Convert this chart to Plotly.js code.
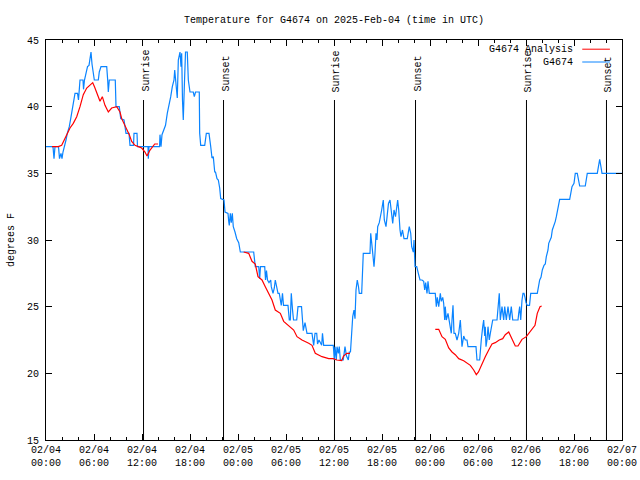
<!DOCTYPE html>
<html>
<head>
<meta charset="utf-8">
<script src="https://cdn.plot.ly/plotly-3.0.1.min.js"></script>
<style>html,body{margin:0;padding:0;background:#fff;}#chart{width:640px;height:480px;}</style>
</head>
<body>
<div id="chart"></div>
<script>
// Hours since 2025-02-04 00:00 UTC
const tickHours = [0, 6, 12, 18, 24, 30, 36, 42, 48, 54, 60, 66, 72];
const tickLabels = ["02/04<br>00:00", "02/04<br>06:00", "02/04<br>12:00", "02/04<br>18:00",
  "02/05<br>00:00", "02/05<br>06:00", "02/05<br>12:00", "02/05<br>18:00",
  "02/06<br>00:00", "02/06<br>06:00", "02/06<br>12:00", "02/06<br>18:00", "02/07<br>00:00"];

// Observed station temperatures (G4674)
const obsHours = [0, 0.875, 1.0, 1.125, 1.5625, 1.6875, 1.875, 2.0, 2.125, 2.25, 2.5, 2.66, 2.81, 2.91, 3.09, 3.29, 3.5, 3.625, 3.94, 4.06, 4.125, 4.25, 4.625, 4.69, 4.81, 5.0, 5.19, 5.375, 5.5, 5.625, 5.75, 5.91, 6.04, 6.54, 6.66, 6.875, 7.59, 7.71, 7.79, 7.91, 8.66, 8.75, 9.16, 9.34, 9.75, 9.875, 10.0, 10.375, 10.5, 10.94, 11.0, 11.375, 11.44, 12.75, 12.79, 12.875,
  14.19, 14.25, 14.375, 14.5, 14.75, 14.94, 15.16, 15.31, 15.59, 15.79, 16.0, 16.09, 16.25, 16.41, 16.54, 16.75, 16.875, 16.96, 17.06, 17.16, 17.29, 17.44, 17.66, 17.79, 18.0, 18.41, 18.54, 18.69, 19.16, 19.21, 19.34, 19.84, 20.04, 20.375, 20.59, 20.75, 20.91, 21.09, 21.19, 21.375, 21.54, 21.71, 21.84, 22.25, 22.375, 22.75, 22.84, 22.91, 23.04, 23.16, 23.29, 23.41, 23.625, 23.84, 24.09, 24.29,
  25.96, 26.16, 26.59, 26.71, 26.81, 27.34, 27.44, 27.56, 27.69, 27.875, 28.09, 28.16, 28.375, 28.54, 28.66, 28.81, 29.0, 29.16, 29.41, 29.56, 29.69, 30.25, 30.41, 30.54, 30.66, 30.81, 30.94, 31.34, 31.5, 31.94, 32.04, 32.16, 32.375, 32.625, 33.25, 33.46, 33.625, 33.84, 33.94, 34.125, 34.46, 34.56, 34.71, 35.91, 36.04, 36.125, 36.29, 36.375, 36.54, 36.66, 36.79, 37.16, 37.375, 37.56, 37.79, 37.91, 38.06, 38.21, 38.34, 38.5, 38.625, 38.75, 38.91, 39.06, 39.16, 39.46, 39.56, 39.66,
  40.5, 40.59, 40.81, 41.0, 41.125, 41.25, 41.375, 41.46, 41.66, 41.84, 41.96, 42.16, 42.29, 42.5, 42.69, 42.81, 43.0, 43.125, 43.34, 43.5, 43.69, 43.96, 44.09, 44.25, 44.375, 44.56, 44.75, 45.16, 45.29, 45.41, 45.59, 45.71, 45.91, 46.0, 46.125, 46.34, 46.54, 46.75, 47.0, 47.21, 47.34, 47.46, 47.625, 47.75, 47.91,
  48.66, 48.79, 48.91, 49.09, 49.29, 49.41, 49.59, 49.71, 49.84, 49.91, 50.04, 50.25, 50.41, 50.54, 50.66, 50.75, 50.875, 51.0, 51.16, 51.375, 51.59, 51.79, 51.91, 52.0, 52.21, 52.41, 52.625, 52.75, 53.75, 53.875, 54.21, 54.29, 54.41, 54.59, 54.71, 54.84, 54.91, 55.0, 55.125, 55.25, 55.41, 55.54, 55.66, 55.84,
  56.375, 56.5, 56.66, 56.79, 57.0, 57.21, 57.34, 57.54, 57.75, 57.96, 58.16, 58.34, 59.0, 59.09, 59.21, 59.34, 59.41, 59.5, 59.625, 59.75, 59.875, 60.0, 60.16, 60.44, 60.59, 61.41, 61.59, 61.71, 61.875, 62.04, 62.25, 62.41, 62.54, 62.75, 62.84, 63.04, 63.16, 63.29, 63.46, 63.66, 63.79, 63.91, 64.09, 64.21,
  65.46, 65.59, 65.75, 66.0, 66.16, 66.41, 66.59, 66.71, 67.41, 67.54, 67.66, 68.91, 69.09, 69.21, 69.34, 69.5, 72];
const obsTemps = [37, 37, 36.1, 37, 37, 36.1, 36.5, 36.1, 36.6, 37, 37.5, 38, 38.3, 38.5, 39.1, 39.75, 40.4, 41, 41, 40.5, 41, 42, 42, 41.3, 42, 42.6, 43, 43.1, 43.6, 44.1, 43.2, 42.5, 42, 42, 42.6, 43, 43, 42, 41.1, 42, 42, 40, 40, 39.1, 39, 38.5, 38, 38, 37.1, 37.1, 38, 38, 37, 37, 36.1, 37,
  37, 37.9, 37, 37.9, 38.3, 38.6, 39.5, 39.9, 40.75, 41.5, 42, 42.75, 41.5, 40.65, 43.5, 44.1, 43, 44, 40.5, 39, 41.5, 44.1, 44.1, 42, 41.1, 41.1, 40.75, 41.1, 41.1, 38, 37.1, 37.1, 38, 38, 37, 36.15, 36.25, 35.1, 35.1, 34.6, 34.5, 33.9, 33.1, 33, 32.1, 32, 31.4, 31.1, 32, 31.3, 32, 31, 30.6, 30.1, 29.8, 29.1,
  29.1, 28, 28, 27.1, 28, 28, 27, 27.7, 27, 26.8, 27, 26.5, 26, 26.4, 27, 26.5, 26, 26, 25.1, 26, 25.1, 25.1, 24, 24, 26, 24.8, 24, 24, 25, 25, 24, 23.2, 23.8, 23, 23, 22.1, 23, 23, 22.2, 22.5, 22.1, 23, 22.1, 22.1, 21, 22, 21, 22, 21.5, 22, 21, 21, 22, 21.3, 21, 21.6, 21.6, 22.9, 24.25, 24.75, 24.1, 26.25, 27, 26.5, 26, 26, 27.5, 29,
  29, 30.5, 29.2, 28, 29, 30.5, 30, 31, 31.3, 31.75, 32.25, 33, 31.5, 31, 32.25, 32.75, 33, 32.25, 31.25, 32.25, 31.75, 33, 32.25, 30.75, 30.25, 30.75, 30.1, 30.1, 30.5, 31, 30.5, 29.5, 29.1, 30, 28, 28, 27.5, 27, 27, 26.9, 26.25, 26.8, 26, 26.9, 26,
  26, 25, 25.7, 25, 26, 25.4, 25.7, 25.25, 24, 25, 24, 24.5, 24, 23.5, 23, 24, 25.1, 23, 23, 22.5, 23, 24, 23, 22, 22.8, 22.5, 22.5, 22, 22, 21, 21, 21.8, 22.5, 23.5, 24, 22.8, 23.5, 22, 22.5, 23.5, 22.5, 23, 23.5, 24,
  24, 25, 26, 24, 25, 24, 25, 24, 25, 24, 25, 24, 24, 24.5, 25, 24, 25.1, 25.5, 26, 26, 25.7, 25.3, 25.1, 25.1, 26, 26, 26.6, 27, 27.2, 27.75, 28.1, 28.2, 28.75, 29.25, 29.75, 30.1, 30.2, 30.75, 31, 31.4, 31.75, 32.1, 32.75, 33.05,
  33.05, 33.5, 34, 34.25, 35, 35, 34.5, 34.05, 34.05, 34.6, 35, 35, 35.6, 36.05, 35.6, 35, 35];

// Analysis temperatures (G4674 Analysis), gaps as null
const anaHours = [0.75, 1.54, 1.96, 2.375, 2.79, 3.0, 3.41, 3.84, 4.25, 4.66, 5.09, 5.5, 5.84, 6.06, 6.34, 6.75, 7.04, 7.375, 7.79, 8.21, 8.84, 9.25, 9.46, 9.875, 10.125, 10.41, 10.71, 11.125, 11.54, 11.96, 12.375, 12.625, 12.96, 13.375, 13.59, 14.0, null,
  24.71, 25.34, 25.75, 26.16, 26.5, 27.0, 27.41, 27.84, 28.25, 28.66, 29.29, 29.71, 30.34, 30.96, 31.375, 32.0, 32.84, 33.25, 33.66, 34.5, 35.34, 35.91, 36.34, 36.96, 37.19, 37.59, 38.0, null,
  48.66, 49.09, 49.5, 49.91, 50.34, 50.75, 51.16, 51.59, 52.21, 52.625, 53.04, 53.46, 53.79, 54.06, 54.5, 54.91, 55.34, 55.75, 56.16, 56.66, 57.09, 57.41, 57.84, 58.25, 58.66, 59.0, 59.5, 60.04, 60.5, 60.91, 61.125, 61.41, 61.75, 61.96];
const anaTemps = [37, 37, 37.1, 37.6, 38.1, 38.4, 38.75, 39.25, 40, 40.9, 41.4, 41.6, 41.8, 41.5, 41.1, 40.4, 40.75, 40.1, 39.6, 39.9, 40, 39.6, 39.1, 38.6, 38.3, 37.9, 37.4, 37.1, 37, 36.9, 36.6, 36.3, 36.7, 37, 37.2, 37.2, null,
  29.1, 29, 28.4, 28.2, 27.25, 27, 26.5, 26, 25.5, 24.75, 24.5, 23.9, 23.6, 23.25, 22.75, 22.5, 22.25, 22.1, 21.5, 21.25, 21.1, 21.1, 21, 20.95, 21.3, 21.5, 21.5, null,
  23.3, 23.3, 22.75, 22.55, 21.9, 21.6, 21.4, 21.1, 20.95, 20.75, 20.6, 20.25, 19.9, 20.1, 20.75, 21.25, 21.75, 22.2, 22.3, 22.5, 22.6, 22.9, 23.1, 22.6, 22.05, 22.05, 22.55, 22.75, 23.1, 23.4, 23.6, 24.5, 25, 25.05];

// Sunrise / sunset times
const eventHours = [12.19, 22.19, 36.06, 46.19, 60.06, 70.06];
const eventLabels = ["Sunrise", "Sunset", "Sunrise", "Sunset", "Sunrise", "Sunset"];
const eventTop = 40.5;
const axisMin = 15;

const FONT = "Liberation Mono, DejaVu Sans Mono, monospace";
const RED = "#ff0000";
const BLUE = "#0a84ff";

const evX = [], evY = [];
eventHours.forEach(h => { evX.push(h, h, null); evY.push(eventTop, axisMin, null); });

const traces = [
  {x: evX, y: evY, mode: "lines", line: {color: "#000", width: 1}, hoverinfo: "skip", showlegend: false},
  {x: obsHours, y: obsTemps, name: "G4674", mode: "lines", line: {color: BLUE, width: 1.2}, showlegend: false},
  {x: anaHours, y: anaTemps, name: "G4674 Analysis", mode: "lines", connectgaps: false, line: {color: RED, width: 1.2}, showlegend: false}
];

const annotations = eventHours.map((h, i) => ({
  x: h, y: eventTop + 0.45, xref: "x", yref: "y", text: eventLabels[i], textangle: -90,
  showarrow: false, xanchor: "center", yanchor: "bottom", xshift: 2,
  font: {family: FONT, size: 10, color: "#000"}
}));
annotations.push(
  {x: 0.919, y: 0.977, xref: "paper", yref: "paper", text: "G4674 Analysis", showarrow: false, xanchor: "right", yanchor: "middle", font: {family: FONT, size: 10, color: "#000"}},
  {x: 0.919, y: 0.945, xref: "paper", yref: "paper", text: "G4674", showarrow: false, xanchor: "right", yanchor: "middle", font: {family: FONT, size: 10, color: "#000"}}
);

const shapes = [
  {type: "line", xref: "paper", yref: "paper", x0: 0.931, x1: 0.979, y0: 0.977, y1: 0.977, line: {color: RED, width: 1}},
  {type: "line", xref: "paper", yref: "paper", x0: 0.931, x1: 0.979, y0: 0.945, y1: 0.945, line: {color: BLUE, width: 1}}
];

const layout = {
  width: 640, height: 480,
  margin: {l: 46, r: 18, t: 40, b: 40},
  paper_bgcolor: "#fff", plot_bgcolor: "#fff",
  showlegend: false,
  title: {text: "Temperature for G4674 on 2025-Feb-04 (time in UTC)", font: {family: FONT, size: 10, color: "#000"},
    x: 0.5, xref: "paper", xanchor: "center", y: 0.96, yref: "container", yanchor: "middle"},
  xaxis: {range: [0, 72], tickmode: "array", tickvals: tickHours, ticktext: tickLabels,
    ticks: "inside", ticklen: 6, tickcolor: "#000", showline: true, linecolor: "#000", linewidth: 1, mirror: "ticks",
    showgrid: false, zeroline: false, tickfont: {family: FONT, size: 10, color: "#000"},
    minor: {dtick: 2, tick0: 0, ticks: "inside", ticklen: 3, tickcolor: "#000", showgrid: false}},
  yaxis: {range: [15, 45], dtick: 5, tick0: 15, ticks: "inside", ticklen: 6, tickcolor: "#000",
    showline: true, linecolor: "#000", linewidth: 1, mirror: "ticks", showgrid: false, zeroline: false,
    ticklabelstandoff: 4,
    tickfont: {family: FONT, size: 10, color: "#000"},
    title: {text: "degrees F", font: {family: FONT, size: 10, color: "#000"}, standoff: 10}},
  annotations: annotations,
  shapes: shapes
};

Plotly.newPlot("chart", traces, layout, {staticPlot: true, displayModeBar: false});
</script>
</body>
</html>
